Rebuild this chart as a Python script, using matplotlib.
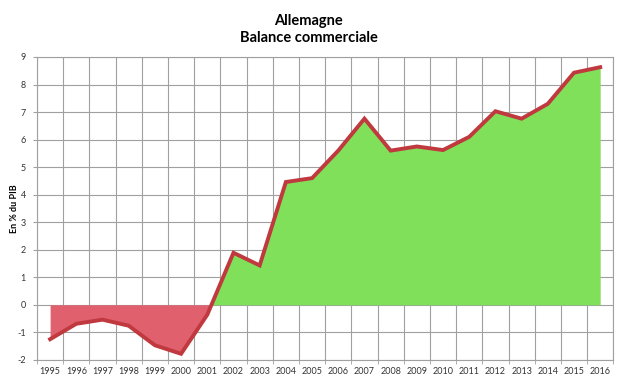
import numpy as np
import matplotlib.pyplot as plt

# Balance commerciale de l'Allemagne, en % du PIB
years = [str(y) for y in range(1995, 2017)]
balance = [-1.25, -0.69, -0.54, -0.76, -1.47, -1.78, -0.36, 1.89, 1.43, 4.46,
           4.6, 5.6, 6.76, 5.6, 5.75, 5.62, 6.1, 7.03, 6.76, 7.3, 8.43, 8.63]
yticks = list(range(-2, 10))

plt.rcParams['font.family'] = ['Lato', 'DejaVu Sans']

fig = plt.figure(figsize=(6.17, 3.8), dpi=100)
ax = fig.add_axes([0.060, 0.053, 0.934, 0.797])

x = np.arange(len(years))
y = np.array(balance)

ax.fill_between(x, y, 0, where=y >= 0, interpolate=True, color='#80e05a', lw=0, zorder=2)
ax.fill_between(x, y, 0, where=y < 0, interpolate=True, color='#e0606e', lw=0, zorder=2)
ax.plot(x, y, color='#c0393e', lw=2.8, solid_joinstyle='miter', zorder=3)

ax.set_xlim(-0.5, len(years) - 0.5)
ax.set_ylim(-2, 9)
ax.set_xticks(x)
ax.set_xticklabels(years, fontsize=6.5, color='#333333')
ax.set_xticks(np.arange(-0.5, len(years)), minor=True)
ax.tick_params(axis='x', which='major', length=0, pad=5)
ax.tick_params(axis='x', which='minor', length=3, color='#a0a0a0')
ax.set_yticks(yticks)
ax.set_yticklabels([str(v) for v in yticks], fontsize=6.5, color='#333333')
ax.tick_params(axis='y', length=3, color='#a0a0a0', pad=5)

ax.grid(True, which='minor', axis='x', color='#a0a0a0', lw=0.8, zorder=1)
ax.grid(True, which='major', axis='y', color='#a0a0a0', lw=0.8, zorder=1)
ax.set_axisbelow(True)
for s in ax.spines.values():
    s.set_color('#a0a0a0')
    s.set_linewidth(0.8)

ax.set_ylabel('En % du PIB', fontsize=6.5, fontweight='bold')
ax.yaxis.set_label_coords(-0.032, 0.5)
fig.text(0.5, 0.945, 'Allemagne', ha='center', va='center', fontsize=10.5, fontweight='bold')
fig.text(0.5, 0.900, 'Balance commerciale', ha='center', va='center', fontsize=10.5, fontweight='bold')

fig.savefig('out.png', dpi=100)
